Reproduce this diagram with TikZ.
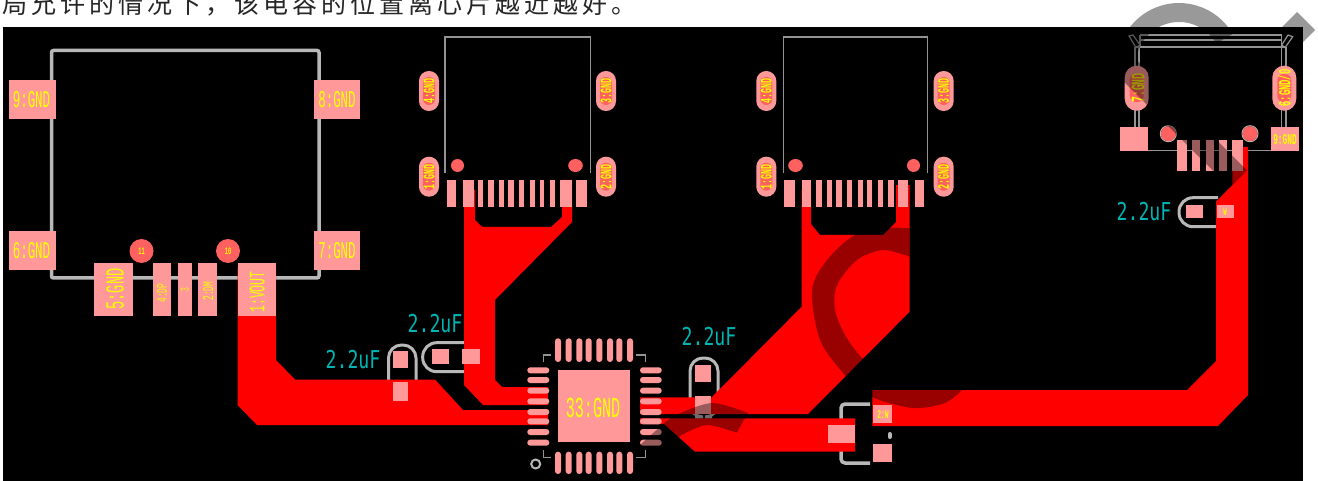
\documentclass[tikz,border=0pt]{standalone}
\usepackage{fontspec}
\setmainfont{Noto Sans CJK SC}
\newfontfamily\captionfont[LetterSpace=16]{Noto Sans CJK SC}
\newfontfamily\silkfont[FakeStretch=0.52]{Liberation Mono}
\newfontfamily\valuefont[FakeStretch=0.74]{DejaVu Sans Mono}
\def\silksize#1{\fontsize{#1}{#1}\silkfont\selectfont}
\definecolor{copper}{HTML}{FF0000}
\definecolor{padpink}{HTML}{FF9999}
\definecolor{drillred}{HTML}{FF6060}
\definecolor{outlinegray}{HTML}{B8B8B8}
\definecolor{silkyellow}{HTML}{FFFF00}
\definecolor{valueteal}{HTML}{00B4B4}
\tikzset{
  pad/.style={fill=padpink},
  drill/.style={fill=drillred},
  trace/.style={fill=copper},
  outline/.style={draw=outlinegray, line width=3.5pt, rounded corners=2pt},
  thinline/.style={draw=outlinegray!80!black, line width=1.2pt},
  silk/.style={text=silkyellow, inner sep=0pt, font=\silksize{#1}},
  silk/.default=15,
  silkbold/.style={text=silkyellow, inner sep=0pt, font=\silksize{#1}\bfseries},
  capvalue/.style={text=valueteal, inner sep=0pt, font=\fontsize{24.6}{24.6}\valuefont\selectfont},
  watermark/.style={fill=black, fill opacity=0.4}
}
\begin{document}
\begin{tikzpicture}[x=1pt,y=-1pt]
    \useasboundingbox (0,0) rectangle (1318,481);

    % Caption line, cut by the top of the page
    \node[anchor=base west, inner sep=0pt, text=black!85] (caption) at (2.5,13.5)
        {\fontsize{25}{25}\captionfont\selectfont 局允许的情况下，该电容的位置离心片越近越好。};

    % Board background
    \fill[black] (3,27) rectangle (1303,481);

    % Left connector outline
    \draw[outline] (51.5,278) -- (51.5,50.5) -- (319,50.5) -- (319,278) -- cycle;

    % Two middle connector outlines
    \foreach \xa/\xb in {445/590.5, 783.7/927.7}
        \draw[thinline] (\xa,172.7) -- (\xa,37) -- (\xb,37) -- (\xb,172.7);

    % Right connector outline
    \draw[thinline] (1140,35) -- (1281.7,35) (1140,40) -- (1281.7,40) (1136,47) -- (1285,47);
    \draw[thinline] (1140,35) -- (1140,47) (1281.7,35) -- (1281.7,47);
    \draw[thinline] (1129,36) -- (1133,35) -- (1140,45) -- (1136,47.7) -- cycle;
    \draw[thinline] (1281.7,45) -- (1288,35) -- (1292.7,36.7) -- (1285,47.7) -- cycle;
    \foreach \xa in {1135,1139,1281.7,1286}
        \draw[thinline] (\xa,47) -- (\xa,127);
    \draw[thinline] (1148,150.5) -- (1271,150.5);

    % Capacitor outlines
    \draw[outlinegray, line width=3pt, rounded corners=13pt] (388.5,382) -- (388.5,345) -- (416,345) -- (416,382);
    \draw[outlinegray, line width=3pt, rounded corners=14pt] (464,342.7) -- (422.7,342.7) -- (422.7,371.7) -- (464,371.7);
    \draw[outlinegray, line width=3pt, rounded corners=13pt] (695,417) -- (690,417) -- (690,358) -- (718,358) -- (718,417) -- (712,417);
    \draw[outlinegray, line width=3pt, rounded corners=14pt] (1218,197.7) -- (1179,197.7) -- (1179,226.7) -- (1218,226.7);
    \draw[outlinegray, line width=3.5pt, rounded corners=4pt] (870,404) -- (841,404) -- (841,463) -- (870,463);
    \draw[outlinegray, line width=4pt, line cap=round] (889.7,434) -- (889.7,437);

    % Copper traces
    \fill[trace] (237.5,267) -- (276,267) -- (276,360) -- (295,379.5) -- (435,379.5) -- (463,410)
        -- (548,410) -- (548,425) -- (257,425) -- (237.5,405) -- cycle;
    \fill[trace] (464,190) -- (475,190) -- (475,220) -- (482,227) -- (551,227) -- (562,217)
        -- (562,180) -- (572,180) -- (572,222) -- (495,300) -- (495,380) -- (502,387) -- (548,387)
        -- (548,405) -- (483,405) -- (464,385) -- cycle;
    \fill[trace] (640,397.3) -- (711.7,397.3) -- (801.7,306.7) -- (801.7,190) -- (811,190)
        -- (811,224) -- (820,235) -- (883,235) -- (896,222) -- (896,185) -- (909.7,185)
        -- (909.7,311.7) -- (808,414) -- (640,414) -- cycle;
    \fill[trace] (640,418.3) -- (855,418.3) -- (855,451.7) -- (695,451.7) -- (664,424) -- (640,424) -- cycle;
    \fill[trace] (872.3,390) -- (1187,390) -- (1216,361) -- (1216,201.7) -- (1232.3,185) -- (1232.3,147)
        -- (1248,147) -- (1248,395) -- (1218,426) -- (872.3,426) -- cycle;

    % Left connector pads
    \foreach \xa/\ya/\xb/\yb in {8.5/80.5/56/119, 313.5/80.5/360/119, 8.5/231.5/56/270, 313.5/231.5/360/270,
        93.5/263.5/132.5/315.5, 152.5/263.5/171/315.5, 177.5/263.5/192/315.5, 197.5/263.5/216.5/315.5, 237.5/263.5/275.5/315.5}
        \fill[pad] (\xa,\ya) rectangle (\xb,\yb);
    \foreach \xa/\ya in {141.5/251, 228/251}
        \fill[drill] (\xa,\ya) circle (12);

    % Middle connector pads
    \foreach \xa/\xb in {447/456.3, 463.3/474, 477.7/483, 488.3/493.7, 499/504.3, 508.3/513.7, 519/524.3, 529.7/535,
        540.3/544.3, 549.7/555, 560.3/572.3, 576.3/587, 784.3/795, 801.7/811, 816.3/821.7, 827/832.3, 836.3/841.7,
        847/852.3, 857.7/863, 867/872.3, 877.7/883, 888.3/893.7, 897.7/908.3, 915/924.3}
        \fill[pad] (\xa,180) rectangle (\xb,207);
    \foreach \xa in {429,606,766.3,943.7}
        \foreach \ya in {91,176.7} {
            \fill[pad, rounded corners=9.9pt] (\xa-10,\ya-20) rectangle (\xa+10,\ya+20);
            \fill[drill, rounded corners=5.9pt] (\xa-6,\ya-14) rectangle (\xa+6,\ya+14);
        }
    \foreach \xa/\ya/\rx in {457.5/165.5/6.5, 575.5/165.5/7.3, 795.5/165.5/7.3, 913.5/165.5/6.5}
        \fill[drill] (\xa,\ya) ellipse (\rx pt and 6.5pt);

    % Right connector pads
    \foreach \xa/\ya/\xb/\yb in {1120.3/127/1148.3/151, 1271/127/1299/151, 1177.3/140.3/1187.3/171, 1192.3/140.3/1200.3/171,
        1205.7/140.3/1213.7/171, 1219/140.3/1227/171, 1232.3/140.3/1243.3/171}
        \fill[pad] (\xa,\ya) rectangle (\xb,\yb);
    \foreach \xa in {1136.7,1284.3} {
        \fill[pad, rounded corners=11.9pt] (\xa-12,65.7) rectangle (\xa+12,110.7);
        \fill[drill, rounded corners=6pt] (\xa-7,74) rectangle (\xa+7,102);
    }
    \foreach \xa in {1168.3,1250} {
        \draw[outlinegray, line width=1pt] (\xa,133.7) circle (8);
        \fill[drill] (\xa,133.7) circle (7.5);
    }

    % Capacitor pads
    \foreach \xa/\ya/\xb/\yb in {393.3/350.7/408.3/368.3, 393.3/382.3/408.3/400.7, 431.7/348.7/448.7/364, 461.7/348.7/480.3/364,
        695/365/711/382, 695/395.7/711/414, 1186/205/1202.7/218.3, 1216.7/205/1233.7/218.3,
        873.3/405/892/423, 828.3/425/855/443.3, 873/443.7/892/462.3}
        \fill[pad] (\xa,\ya) rectangle (\xb,\yb);

    % QFN chip
    \fill[pad] (557.7,370.3) rectangle (629.7,442.3);
    \foreach \ya in {370.3,380,390.7,401.3,412,421.3,432,442.7} {
        \fill[pad, rounded corners=2.9pt] (527.3,\ya-3) rectangle (549.3,\ya+3);
        \fill[pad, rounded corners=2.9pt] (640,\ya-3) rectangle (661.7,\ya+3);
    }
    \foreach \xa in {558,568.7,579.3,588.7,599.3,610,619.3,630} {
        \fill[pad, rounded corners=2.9pt] (\xa-3,338.3) rectangle (\xa+3,362);
        \fill[pad, rounded corners=2.9pt] (\xa-3,451.7) rectangle (\xa+3,474);
    }
    \draw[thinline] (543.3,362.3) -- (543.3,355) -- (550.7,355);
    \draw[thinline] (636,355) -- (645.3,355) -- (645.3,362);
    \draw[thinline] (543.3,450) -- (543.3,457.3) -- (550.7,457.3);
    \draw[thinline] (636,457.3) -- (645.3,457.3) -- (645.3,450);
    \draw[outlinegray, line width=2pt] (535.7,464) circle (4.5);

    % Silkscreen labels
    \node[silk=24] (pad9) at (31.5,100) {9:GND};
    \node[silk=24] (pad8) at (337,100) {8:GND};
    \node[silk=24] (pad6) at (31.5,251) {6:GND};
    \node[silk=24] (pad7) at (337,251) {7:GND};
    \node[silk=26, rotate=90] (pad5) at (115,289) {5:GND};
    \node[silk=15, rotate=90] (pad4) at (162,293) {4:DP};
    \node[silk=12, rotate=90] (pad3) at (185,290) {3};
    \node[silk=15, rotate=90] (pad2) at (208,291) {2:DM};
    \node[silk=22, rotate=90] (pad1) at (257,292) {1:VOUT};
    \node[silkbold=10] (drill11) at (141.5,251.5) {11};
    \node[silkbold=10] (drill10) at (228,251.5) {10};
    \foreach \xa/\ya/\txt in {429/91/4:GND, 606/91/3:GND, 429/176.7/1:GND, 606/176.7/2:GND,
        766.3/91/4:GND, 943.7/91/3:GND, 766.3/176.7/1:GND, 943.7/176.7/2:GND}
        \node[silkbold=16, rotate=90] at (\xa,\ya) {\txt};
    \node[silkbold=19, rotate=90] (oval7) at (1138,88) {7:GND};
    \node[silkbold=17, rotate=90] (oval6) at (1284.3,88) {6:GND/0};
    \node[silkbold=15] (pad9r) at (1285,140) {9:GND};
    \node[silk=29] (chipgnd) at (593,407.5) {33:GND};
    \node[silkbold=11] (capw) at (1225,212) {W};
    \node[silkbold=12] (capin) at (883,414) {2:W};

    % Capacitor values
    \node[capvalue] (value1) at (353,360) {2.2uF};
    \node[capvalue] (value2) at (435,324) {2.2uF};
    \node[capvalue] (value3) at (709,337) {2.2uF};
    \node[capvalue] (value4) at (1144,212) {2.2uF};

    % Watermark: ring and band at the top right, then the arrow corner
    \fill[watermark] plot[domain=30:180,samples=40] ({1179+62*cos(\x)},{65-62*sin(\x)})
        -- (1117,75) -- (1230,187.7) -- (1247.2,170.5) -- (1136,59.3)
        -- plot[domain=180:30,samples=40] ({1179+43*cos(\x)},{65-43*sin(\x)}) -- cycle;
    \fill[watermark] (1282,27) -- (1297,12) -- (1315,30) -- (1303,42) -- (1303,27) -- cycle;

    % Watermark: large curve over the wide traces
    \fill[watermark] plot[smooth] coordinates {(909.7,228.3) (890,228) (855,235) (827,260) (812,290) (820,340)
            (845,375) (872,397) (913,408) (945,403) (962,390)}
        -- plot[smooth] coordinates {(980,370) (950,380) (915,385) (880,370) (862,358) (845,335) (835,310) (837,285)
            (857,260) (883,250) (909.7,256.7)} -- cycle;

    % Watermark: small curve next to the chip
    \fill[watermark] (640,445) -- plot[smooth] coordinates {(662,425) (676,415) (712,403) (748,413)}
        -- (746.7,415) -- (736.7,432.7) -- plot[smooth] coordinates {(736.7,432.7) (706.7,425) (681.7,435)}
        -- (660,450) -- (640,448) -- cycle;
\end{tikzpicture}
\end{document}
